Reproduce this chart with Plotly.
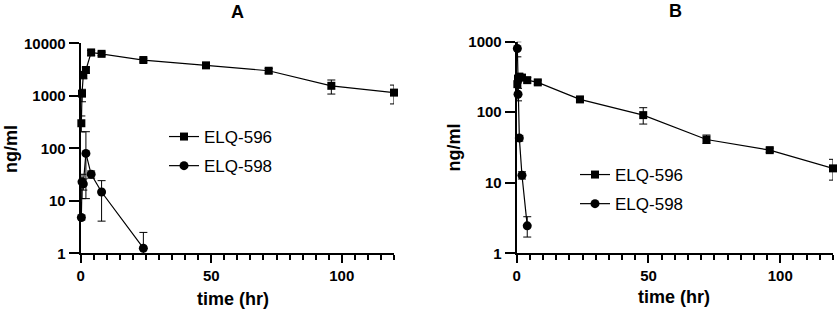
import plotly.graph_objects as go

# ---- data ----
time_pts = [0.25, 0.5, 1, 2, 4, 8, 24, 48, 72, 96, 120]

a596 = [300, 1100, 2500, 3100, 6700, 6300, 4800, 3800, 3000, 1550, 1150]
a596_up = [113, 230, 400, 400, 600, 500, 400, 400, 300, 450, 450]
a596_dn = [95, 330, 400, 400, 900, 500, 400, 400, 300, 470, 450]

a598_t = [0.25, 0.5, 1, 2, 4, 8, 24]
a598 = [4.8, 23, 21, 80, 32, 14.7, 1.25]
a598_up = [0.5, 9, 5, 127, 5, 9.5, 1.25]
a598_dn = [0.5, 12, 5, 69, 5, 10.6, 1.0]

b596 = [250, 300, 320, 310, 285, 265, 152, 91, 41, 29, 16]
b596_up = [60, 40, 30, 30, 25, 20, 12, 25, 6.5, 2, 5.5]
b596_dn = [60, 40, 30, 30, 25, 20, 12, 23, 5, 2, 5.1]

b598_t = [0.25, 0.5, 1, 2, 4]
b598 = [800, 180, 43, 12.8, 2.45]
b598_up = [200, 38, 4, 1.5, 0.85]
b598_dn = [190, 35, 4, 1.5, 0.75]

FONT = "Arial, Liberation Sans, sans-serif"
W, H = 837, 309


def px_x(p):
    return p / W


def px_y(p):
    return (H - p) / H


def trace(x, y, up, dn, name, symbol, xa, ya, leg, size):
    return go.Scatter(
        x=x, y=y, name=name, mode="lines+markers",
        xaxis=xa, yaxis=ya, legend=leg, legendgroup=name + leg,
        line=dict(color="black", width=1.2),
        marker=dict(symbol=symbol, size=size, color="black"),
        error_y=dict(type="data", array=up, arrayminus=dn, symmetric=False,
                     color="black", thickness=1, width=4),
        cliponaxis=False,
    )


fig = go.Figure()
fig.add_trace(trace(time_pts, a596, a596_up, a596_dn, "ELQ-596", "square", "x", "y", "legend", 8))
fig.add_trace(trace(a598_t, a598, a598_up, a598_dn, "ELQ-598", "circle", "x", "y", "legend", 9))
fig.add_trace(trace(time_pts, b596, b596_up, b596_dn, "ELQ-596", "square", "x2", "y2", "legend2", 8))
fig.add_trace(trace(b598_t, b598, b598_up, b598_dn, "ELQ-598", "circle", "x2", "y2", "legend2", 9))

tickfont = dict(family=FONT, size=15, color="black", weight="bold")

xcommon = dict(
    range=[0, 120], showgrid=False, zeroline=False, showline=True, automargin=False,
    linecolor="black", linewidth=2, ticks="outside", ticklen=8, tickwidth=2,
    tickcolor="black", tickvals=[0, 50, 100], ticktext=["0", "50", "100"],
    tickfont=tickfont,
    minor=dict(dtick=5, tick0=0, ticks="outside", ticklen=5, tickwidth=2, tickcolor="black"),
)
ycommon = dict(
    type="log", showgrid=False, zeroline=False, showline=True, automargin=False,
    linecolor="black", linewidth=2, ticks="outside", ticklen=10, tickwidth=2,
    tickcolor="black", tickfont=tickfont,
)


def label(text, x, y, angle=0):
    return dict(text=text, x=px_x(x), y=px_y(y), xref="paper", yref="paper",
                xanchor="center", yanchor="middle", showarrow=False, textangle=angle,
                font=dict(family=FONT, size=18, color="black"))


fig.update_layout(
    width=W, height=H, autosize=False,
    margin=dict(l=0, r=0, t=0, b=0, autoexpand=False),
    paper_bgcolor="white", plot_bgcolor="white",
    showlegend=True,
    xaxis=dict(domain=[px_x(80.7), px_x(394)], anchor="y", **xcommon),
    yaxis=dict(domain=[px_y(253.3), px_y(43.3)], anchor="x", range=[0, 4],
               tickvals=[1, 10, 100, 1000, 10000],
               ticktext=["1", "10", "100", "1000", "10000"], **ycommon),
    xaxis2=dict(domain=[px_x(516.7), px_x(833)], anchor="y2", **xcommon),
    yaxis2=dict(domain=[px_y(253.3), px_y(41.7)], anchor="x2", range=[0, 3],
                tickvals=[1, 10, 100, 1000],
                ticktext=["1", "10", "100", "1000"], **ycommon),
    legend=dict(x=px_x(164), y=px_y(119), xanchor="left", yanchor="top",
                font=dict(family=FONT, size=17, color="black"),
                bgcolor="rgba(0,0,0,0)", tracegroupgap=4),
    legend2=dict(x=px_x(575), y=px_y(157), xanchor="left", yanchor="top",
                 font=dict(family=FONT, size=17, color="black"),
                 bgcolor="rgba(0,0,0,0)", tracegroupgap=4),
    annotations=[
        label("<b>A</b>", 237, 12),
        label("<b>B</b>", 675, 11),
        label("<b>ng/ml</b>", 11, 149, -90),
        label("<b>ng/ml</b>", 453, 147.5, -90),
        label("<b>time (hr)</b>", 233, 299),
        label("<b>time (hr)</b>", 674, 297),
    ],
)

fig.write_html(
    "out.html",
    config={"displayModeBar": False},
    post_script="document.body.style.margin='0px';document.body.style.overflow='hidden';",
)
